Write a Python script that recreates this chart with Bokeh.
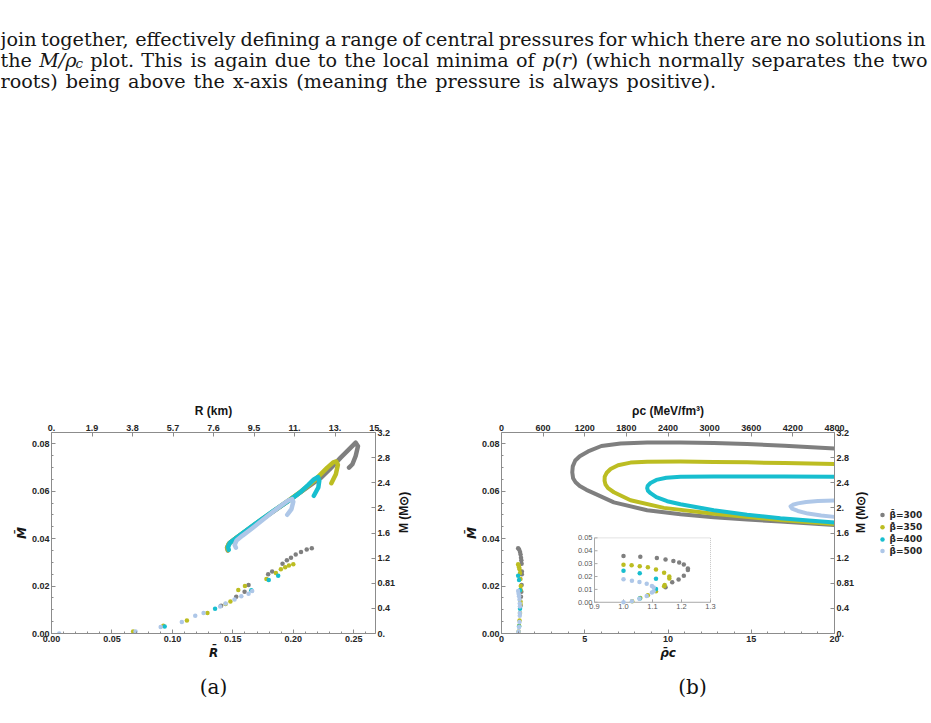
import math
from bokeh.plotting import figure
from bokeh.models import (Range1d, LinearAxis, FixedTicker, SingleIntervalTicker,
                          NumeralTickFormatter, CustomJSTickFormatter, ColumnDataSource)
from bokeh.layouts import column, row
from bokeh.embed import file_html
from bokeh.resources import INLINE
from bokeh.core.properties import value

# ---------------------------------------------------------------- data
beta_colors = ["#7f7f7f", "#bcbd22", "#17becf", "#aec7e8"]
beta_labels = ["\u03b2\u0304=300", "\u03b2\u0304=350", "\u03b2\u0304=400", "\u03b2\u0304=500"]

# low-mass branch (isolated solutions): radius, mass, central density
lo_R_300 = [0.2153, 0.2111, 0.2064, 0.2020, 0.1981, 0.1947, 0.1911, 0.1825, 0.1792, 0.1630, 0.1597, 0.1528, 0.1403]
lo_M_300 = [0.0360, 0.0354, 0.0344, 0.0333, 0.0320, 0.0309, 0.0294, 0.0262, 0.0250, 0.0205, 0.0176, 0.0155, 0.0117]
lo_rho_300 = [1.000, 1.058, 1.115, 1.145, 1.172, 1.192, 1.208, 1.222, 1.222, 1.208, 1.190, 1.168, 1.145]

lo_R_350 = [0.2000, 0.1964, 0.1933, 0.1897, 0.1856, 0.1778, 0.1600, 0.1545, 0.1480, 0.1440, 0.1290, 0.1120, 0.0925, 0.0675]
lo_M_350 = [0.0292, 0.0287, 0.0280, 0.0271, 0.0255, 0.0230, 0.0200, 0.0184, 0.0135, 0.0124, 0.0086, 0.0055, 0.0033, 0.0008]
lo_rho_350 = [1.000, 1.028, 1.056, 1.084, 1.112, 1.140, 1.158, 1.158, 1.142, 1.140, 1.112, 1.084, 1.058, 1.030]

lo_R_400 = [0.1875, 0.1797, 0.1653, 0.1353, 0.0936]
lo_M_400 = [0.0244, 0.0226, 0.0182, 0.0104, 0.0030]
lo_rho_400 = [1.000, 1.056, 1.112, 1.112, 1.056]

lo_R_500 = [0.1660, 0.1630, 0.1570, 0.1514, 0.1440, 0.1395, 0.1258, 0.1189, 0.1078, 0.0903, 0.0695, 0.0064]
lo_M_500 = [0.0179, 0.0168, 0.0157, 0.0143, 0.0127, 0.0114, 0.0086, 0.0075, 0.0049, 0.0027, 0.0008, 0.0000]
lo_rho_500 = [1.000, 1.029, 1.055, 1.080, 1.098, 1.104, 1.104, 1.098, 1.080, 1.055, 1.029, 1.000]

# high-mass branch in the mass-radius plane
hi_R_300 = [0.1458, 0.1452, 0.1468, 0.1530, 0.1646, 0.1740, 0.1839, 0.1977, 0.2115, 0.2226, 0.2300,
            0.2392, 0.2475, 0.2516, 0.2535, 0.2516, 0.2489, 0.2461]
hi_M_300 = [0.0350, 0.0362, 0.0380, 0.0404, 0.0446, 0.0481, 0.0516, 0.0566, 0.0616, 0.0656, 0.0692,
            0.0742, 0.0784, 0.0805, 0.0790, 0.0749, 0.0714, 0.0700]
hi_R_350 = [0.1460, 0.1454, 0.1470, 0.1532, 0.1646, 0.1740, 0.1839, 0.1977, 0.2080, 0.2170, 0.2281,
            0.2330, 0.2355, 0.2369, 0.2352, 0.2315]
hi_M_350 = [0.0351, 0.0363, 0.0381, 0.0405, 0.0447, 0.0482, 0.0517, 0.0567, 0.0605, 0.0643, 0.0700,
            0.0722, 0.0726, 0.0712, 0.0672, 0.0634]
hi_R_400 = [0.1466, 0.1460, 0.1476, 0.1538, 0.1646, 0.1740, 0.1839, 0.1991, 0.2060, 0.2120, 0.2170,
            0.2205, 0.2215, 0.2207, 0.2170]
hi_M_400 = [0.0353, 0.0365, 0.0383, 0.0407, 0.0448, 0.0483, 0.0518, 0.0570, 0.0597, 0.0625, 0.0650,
            0.0660, 0.0645, 0.0616, 0.0581]
hi_R_500 = [0.1525, 0.1515, 0.1530, 0.1580, 0.1650, 0.1720, 0.1811, 0.1900, 0.1960, 0.1990, 0.2000,
            0.1985, 0.1950]
hi_M_500 = [0.0362, 0.0374, 0.0392, 0.0413, 0.0440, 0.0468, 0.0505, 0.0540, 0.0562, 0.0567, 0.0556,
            0.0525, 0.0501]

# high-mass branch against central density
hi_rho_300 = [20.0, 17.0, 14.75, 12.75, 10.75, 8.75, 7.15, 6.0, 5.2, 4.7, 4.43, 4.28, 4.25, 4.30, 4.45,
              4.70, 5.10, 5.60, 6.75, 8.75, 10.75, 12.75, 14.75, 16.75, 20.0]
hi_Mb_300 = [0.0781, 0.0792, 0.0799, 0.0804, 0.0806, 0.0806, 0.0802, 0.0791, 0.0768, 0.0748, 0.0730,
             0.0705, 0.0680, 0.0655, 0.0638, 0.0622, 0.0606, 0.0590, 0.0553, 0.0520, 0.0503, 0.0490,
             0.0481, 0.0472, 0.0458]
hi_rho_350 = [20.0, 17.0, 14.75, 12.75, 10.75, 8.75, 7.75, 7.0, 6.55, 6.32, 6.20, 6.19, 6.25, 6.40,
              6.75, 7.75, 9.75, 12.75, 16.75, 20.0]
hi_Mb_350 = [0.0715, 0.0719, 0.0722, 0.0724, 0.0726, 0.0725, 0.0721, 0.0710, 0.0694, 0.0678, 0.0662,
             0.0644, 0.0628, 0.0613, 0.0596, 0.0562, 0.0530, 0.0505, 0.0479, 0.0462]
hi_rho_400 = [20.0, 17.0, 14.75, 12.75, 10.75, 9.90, 9.30, 8.95, 8.78, 8.75, 8.80, 8.95, 9.30, 9.95,
              10.75, 12.75, 14.75, 16.75, 20.0]
hi_Mb_400 = [0.0661, 0.0662, 0.0662, 0.0662, 0.0661, 0.0657, 0.0648, 0.0635, 0.0623, 0.0613, 0.0602,
             0.0592, 0.0575, 0.0558, 0.0545, 0.0520, 0.0501, 0.0486, 0.0468]
hi_rho_500 = [20.0, 19.0, 18.3, 17.8, 17.5, 17.36, 17.45, 17.8, 18.4, 19.2, 20.0]
hi_Mb_500 = [0.0561, 0.0559, 0.0555, 0.0549, 0.0543, 0.0536, 0.0527, 0.0517, 0.0506, 0.0498, 0.0492]

# secondary axis ticks
km_ticks = [0, 1.9, 3.8, 5.7, 7.6, 9.5, 11.4, 13.3, 15.2]
km_labels = ["0.", "1.9", "3.8", "5.7", "7.6", "9.5", "11.", "13.", "15."]
msun_ticks = [0, 0.405, 0.81, 1.215, 1.62, 2.025, 2.43, 2.835, 3.24]
msun_labels = ["0.", "0.4", "0.81", "1.2", "1.6", "2.", "2.4", "2.8", "3.2"]
mev_ticks = [0, 600, 1200, 1800, 2400, 3000, 3600, 4200, 4800]

# inset ticks
inset_x_ticks = [0.9, 1.0, 1.1, 1.2, 1.3]
inset_x_labels = ["0.9", "1.0", "1.1", "1.2", "1.3"]
inset_y_ticks = [0.0, 0.01, 0.02, 0.03, 0.04, 0.05]
inset_y_labels = ["0.00", "0.01", "0.02", "0.03", "0.04", "0.05"]

lo_R = [lo_R_300, lo_R_350, lo_R_400, lo_R_500]
lo_M = [lo_M_300, lo_M_350, lo_M_400, lo_M_500]
lo_rho = [lo_rho_300, lo_rho_350, lo_rho_400, lo_rho_500]
hi_R = [hi_R_300, hi_R_350, hi_R_400, hi_R_500]
hi_M = [hi_M_300, hi_M_350, hi_M_400, hi_M_500]
hi_rho = [hi_rho_300, hi_rho_350, hi_rho_400, hi_rho_500]
hi_Mb = [hi_Mb_300, hi_Mb_350, hi_Mb_400, hi_Mb_500]

# ---------------------------------------------------------------- styling helpers
SANS = "Liberation Sans"
SYM = "DejaVu Sans"
FRAME = "#8c8c8c"
INK = "#262626"
ROW_H = 280


def style_axis(ax, size="9px", bold=True, color=INK, line=FRAME, tick_in=4):
    ax.axis_line_color = line
    ax.major_tick_line_color = line
    ax.minor_tick_line_color = line
    ax.major_tick_in = tick_in
    ax.major_tick_out = 0
    ax.minor_tick_in = 2
    ax.minor_tick_out = 0
    ax.major_label_text_font = SANS
    ax.major_label_text_font_size = size
    ax.major_label_text_font_style = "bold" if bold else "normal"
    ax.major_label_text_color = color
    ax.major_label_standoff = 2
    ax.axis_label_text_font = SANS
    ax.axis_label_text_font_size = "12px"
    ax.axis_label_text_font_style = "bold"
    ax.axis_label_text_color = "#151515"
    ax.axis_label_standoff = 3


def lookup_formatter(vals, labs):
    return CustomJSTickFormatter(args=dict(vals=vals, labs=labs), code="""
        let best = 0, d = Infinity;
        for (let i = 0; i < vals.length; i++) {
            const e = Math.abs(vals[i] - tick);
            if (e < d) { d = e; best = i; }
        }
        return labs[best];
    """)


def upright_right_label(ax):
    if "axis_label_orientation" in ax.properties():
        ax.axis_label_orientation = math.pi / 2


def base_fig(width, height, xr, yr, left, right, top, bottom):
    p = figure(width=width, height=height, x_range=Range1d(*xr), y_range=Range1d(*yr),
               output_backend="svg", toolbar_location=None,
               min_border_left=left, min_border_right=right,
               min_border_top=top, min_border_bottom=bottom,
               background_fill_color="white", border_fill_color="white")
    p.grid.visible = False
    p.outline_line_color = None
    return p


def blank_fig(width, height):
    p = figure(width=width, height=height, x_range=Range1d(0, width), y_range=Range1d(0, height),
               output_backend="svg", toolbar_location=None, x_axis_location=None,
               y_axis_location=None, min_border=0, background_fill_color="white",
               border_fill_color="white")
    p.outline_line_color = None
    p.grid.visible = False
    return p


# ---------------------------------------------------------------- panel (a): mass vs radius
pa = base_fig(440, ROW_H, (0, 0.268), (0, 0.0848), 51, 65, 42, 37)
pa.xaxis.ticker = SingleIntervalTicker(interval=0.05, num_minor_ticks=5)
pa.xaxis.formatter = NumeralTickFormatter(format="0.00")
pa.yaxis.ticker = SingleIntervalTicker(interval=0.02, num_minor_ticks=4)
pa.yaxis.formatter = NumeralTickFormatter(format="0.00")
style_axis(pa.xaxis[0])
style_axis(pa.yaxis[0])
pa.xaxis.axis_label = "R\u0304"
pa.yaxis.axis_label = "M\u0304"
for ax in (pa.xaxis[0], pa.yaxis[0]):
    ax.axis_label_text_font = SYM
    ax.axis_label_text_font_style = "bold italic"
    ax.axis_label_standoff = 1
pa.yaxis.axis_label_standoff = 0

pa.extra_x_ranges = {"km": Range1d(0, 15.2)}
pa.extra_y_ranges = {"msun": Range1d(0, 3.24)}
ax_top_a = LinearAxis(x_range_name="km", ticker=FixedTicker(ticks=km_ticks),
                      formatter=lookup_formatter(km_ticks, km_labels), axis_label="R (km)")
style_axis(ax_top_a)
ax_top_a.axis_label_standoff = 4
pa.add_layout(ax_top_a, "above")
ax_right_a = LinearAxis(y_range_name="msun", ticker=FixedTicker(ticks=msun_ticks),
                        formatter=lookup_formatter(msun_ticks, msun_labels), axis_label="M (M\u2299)")
style_axis(ax_right_a)
ax_right_a.axis_label_standoff = 6
upright_right_label(ax_right_a)
pa.add_layout(ax_right_a, "right")

for i in range(4):
    pa.line(hi_R[i], hi_M[i], line_color=beta_colors[i], line_width=4.5,
            line_cap="round", line_join="round")
for i in range(4):
    pa.scatter(lo_R[i], lo_M[i], marker="circle", size=4.5, fill_color=beta_colors[i],
               line_color=None)

# ---------------------------------------------------------------- panel (b): mass vs central density
B_W = 438
B_L, B_R, B_T, B_B = 61, 44, 37, 37
pb = base_fig(B_W, ROW_H, (0, 20), (0, 0.0848), B_L, B_R, B_T, B_B)
pb.xaxis.ticker = SingleIntervalTicker(interval=5, num_minor_ticks=5)
pb.yaxis.ticker = SingleIntervalTicker(interval=0.02, num_minor_ticks=4)
pb.yaxis.formatter = NumeralTickFormatter(format="0.00")
style_axis(pb.xaxis[0])
style_axis(pb.yaxis[0])
pb.yaxis.axis_label = "M\u0304"
pb.xaxis.axis_label = "\u03c1\u0304c"
for ax in (pb.xaxis[0], pb.yaxis[0]):
    ax.axis_label_text_font = SYM
    ax.axis_label_text_font_style = "bold italic"
    ax.axis_label_standoff = 1
pb.yaxis.axis_label_standoff = 0

# inset placement inside the frame (pixels from the frame's left / bottom edge)
frame_w = B_W - B_L - B_R
frame_h = ROW_H - B_T - B_B
IN_X0, IN_X1 = 93, 209
IN_Y0, IN_Y1 = 32, 98
sx = (inset_x_ticks[-1] - inset_x_ticks[0]) / (IN_X1 - IN_X0)
sy = (inset_y_ticks[-1] - inset_y_ticks[0]) / (IN_Y1 - IN_Y0)
ix_start = inset_x_ticks[0] - IN_X0 * sx
iy_start = inset_y_ticks[0] - IN_Y0 * sy

pb.extra_x_ranges = {"mev": Range1d(0, 4800), "ix": Range1d(ix_start, ix_start + frame_w * sx)}
pb.extra_y_ranges = {"msun": Range1d(0, 3.24), "iy": Range1d(iy_start, iy_start + frame_h * sy)}
ax_top_b = LinearAxis(x_range_name="mev", ticker=FixedTicker(ticks=mev_ticks),
                      axis_label="\u03c1c (MeV/fm\u00b3)")
style_axis(ax_top_b)
ax_top_b.axis_label_standoff = 4
pb.add_layout(ax_top_b, "above")
ax_right_b = LinearAxis(y_range_name="msun", ticker=FixedTicker(ticks=msun_ticks),
                        formatter=lookup_formatter(msun_ticks, msun_labels), axis_label="M (M\u2299)")
style_axis(ax_right_b)
ax_right_b.axis_label_standoff = 4
upright_right_label(ax_right_b)
pb.add_layout(ax_right_b, "right")

for i in range(4):
    pb.line(hi_rho[i], hi_Mb[i], line_color=beta_colors[i], line_width=4,
            line_cap="round", line_join="round")
for i in range(4):
    pb.scatter(lo_rho[i], lo_M[i], marker="circle", size=4.5, fill_color=beta_colors[i],
               line_color=None)

# inset: zoom on the low-density branch, drawn on its own pair of ranges
IR = dict(x_range_name="ix", y_range_name="iy")
x_lo, x_hi = inset_x_ticks[0], inset_x_ticks[-1]
y_lo, y_hi = inset_y_ticks[0], inset_y_ticks[-1]
pb.quad(left=[x_lo], right=[x_hi], bottom=[y_lo], top=[y_hi], fill_color="white",
        line_color=None, **IR)
pb.line([x_lo, x_hi, x_hi], [y_hi, y_hi, y_lo], line_color="#c4c4c4", line_dash="1 1",
        line_width=1, **IR)
pb.line([x_lo, x_lo, x_hi], [y_hi, y_lo, y_lo], line_color="#a8a8a8", line_width=1, **IR)
pb.segment(x0=inset_x_ticks, y0=[y_lo] * 5, x1=inset_x_ticks, y1=[y_lo + 3 * sy] * 5,
           line_color="#a8a8a8", **IR)
pb.segment(x0=[x_lo] * 6, y0=inset_y_ticks, x1=[x_lo + 3 * sx] * 6, y1=inset_y_ticks,
           line_color="#a8a8a8", **IR)
pb.text(x=inset_x_ticks, y=[y_lo - 2 * sy] * 5, text=inset_x_labels, text_align="center",
        text_baseline="top", text_font=value(SANS), text_font_size="7.5px", text_color="#5a5a5a", **IR)
pb.text(x=[x_lo - 2 * sx] * 6, y=inset_y_ticks, text=inset_y_labels, text_align="right",
        text_baseline="middle", text_font=value(SANS), text_font_size="7.5px", text_color="#5a5a5a", **IR)
for i in range(4):
    pb.scatter(lo_rho[i], lo_M[i], marker="circle", size=4.5, fill_color=beta_colors[i],
               line_color=None, **IR)

# ---------------------------------------------------------------- key for the four beta values
LEG_W = 931 - 440 - B_W
lf = blank_fig(LEG_W, ROW_H)
key_y = [165, 148, 131, 115]
lf.scatter(x=[4] * 4, y=key_y, marker="circle", size=4.5, fill_color=beta_colors, line_color=None)
lf.text(x=[11] * 4, y=key_y, text=beta_labels, text_baseline="middle", text_align="left",
        text_font=value(SYM), text_font_style="bold", text_font_size="9px", text_color=INK)

# ---------------------------------------------------------------- surrounding text
SERIF = "DejaVu Serif"
FS = 19.2
TEXT_H = 390

W_N = {" ": 318, "(": 390, ")": 390, ",": 318, "-": 338, ".": 318, "/": 337, "M": 1013, "T": 707,
       "a": 596, "b": 640, "c": 560, "d": 640, "e": 592, "f": 370, "g": 640, "h": 644, "i": 320,
       "j": 310, "k": 600, "l": 320, "m": 948, "n": 644, "o": 602, "p": 640, "q": 640, "r": 478,
       "s": 513, "t": 402, "u": 644, "v": 565, "w": 856, "x": 564, "y": 565, "z": 527}
W_I = {"M": 950, "/": 337, "\u03c1": 610, "c": 560, "p": 640, "r": 478, "(": 390, ")": 390}


def piece_width(txt, style, size):
    table = W_I if "italic" in style else W_N
    return sum(table.get(ch, 600) for ch in txt) * size / 1000.0


def set_line(tokens, base_y, x0=0.0, x1=None, extra=0.0):
    widths = [sum(piece_width(t, s, FS * k) for t, s, k, dy in tok) for tok in tokens]
    gap = FS * 0.318 + extra if x1 is None else (x1 - x0 - sum(widths)) / (len(tokens) - 1)
    out = []
    x = x0
    for j, (tok, w) in enumerate(zip(tokens, widths)):
        if x1 is not None and j == len(tokens) - 1 and len(tok) == 1:
            t, s, k, dy = tok[0]
            out.append((x1, TEXT_H - (base_y + dy), t, s, "%.1fpx" % (FS * k), "right"))
            break
        xx = x
        for t, s, k, dy in tok:
            out.append((xx, TEXT_H - (base_y + dy), t, s, "%.1fpx" % (FS * k), "left"))
            xx += piece_width(t, s, FS * k)
        x += w + gap
    return out


def words(s):
    return [[(w, "normal", 1.0, 0)] for w in s.split(" ")]


line1 = words("join together, effectively defining a range of central pressures for which there are no solutions in")
line2 = ([[("the", "normal", 1.0, 0)],
          [("M/\u03c1", "italic", 1.0, 0), ("c", "italic", 0.7, 3.0)]]
         + words("plot. This is again due to the local minima of")
         + [[("p", "italic", 1.0, 0), ("(", "normal", 1.0, 0), ("r", "italic", 1.0, 0), (")", "normal", 1.0, 0)]]
         + words("(which normally separates the two"))
line3 = words("roots) being above the x-axis (meaning the pressure is always positive).")

pieces = (set_line(line1, 39, 0, 925) + set_line(line2, 60, 0, 927)
          + set_line(line3, 81, 0, extra=1.8))
text_src = ColumnDataSource(dict(x=[p[0] for p in pieces], y=[p[1] for p in pieces],
                                 text=[p[2] for p in pieces], style=[p[3] for p in pieces],
                                 size=[p[4] for p in pieces], align=[p[5] for p in pieces]))

tf = blank_fig(931, TEXT_H)
tf.text(x="x", y="y", text="text", source=text_src, text_font=value(SERIF),
        text_font_style="style", text_font_size="size", text_color="#161616",
        text_baseline="alphabetic", text_align="align")

CAP_H = 723 - TEXT_H - ROW_H
cf = blank_fig(931, CAP_H)
cf.text(x=[213, 692], y=[37, 37], text=["(a)", "(b)"], text_font=value(SERIF),
        text_font_size="20px", text_color="#111111", text_align="center",
        text_baseline="alphabetic")

page = column(tf, row(pa, pb, lf), cf)

with open("out.html", "w") as f:
    f.write(file_html(page, INLINE))
